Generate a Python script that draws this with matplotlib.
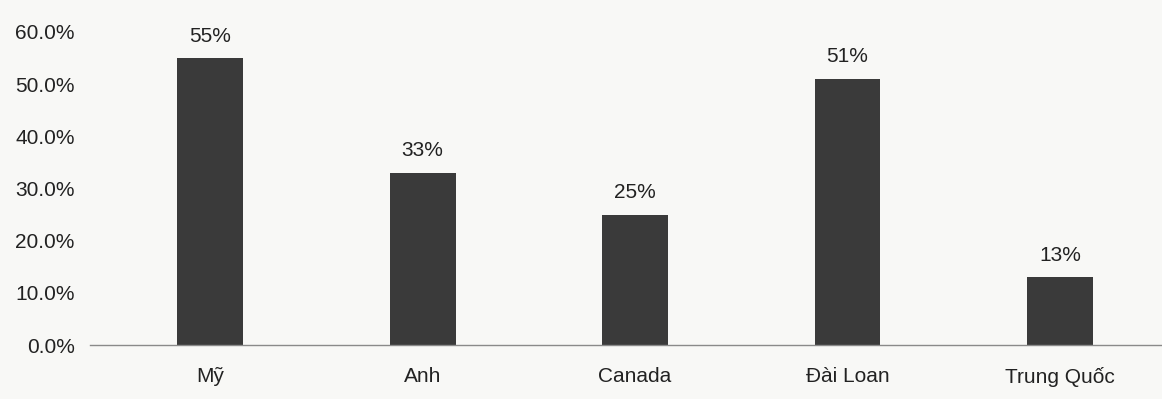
import numpy as np
import matplotlib.pyplot as plt
from matplotlib.ticker import PercentFormatter

plt.rcParams['font.family'] = ['Liberation Sans', 'DejaVu Sans']

countries = ['Mỹ', 'Anh', 'Canada', 'Đài Loan', 'Trung Quốc']
shares = [55, 33, 25, 51, 13]
value_labels = ['55%', '33%', '25%', '51%', '13%']
y_ticks = [0, 10, 20, 30, 40, 50, 60]

bg = '#f8f8f6'
bar_color = '#3a3a3a'
text_color = '#222222'

fig = plt.figure(figsize=(11.62, 3.99), dpi=100, facecolor=bg)
ax = fig.add_axes([0.0775, 0.135, 0.9225, 0.785], facecolor=bg)

x = np.arange(len(countries))
bars = ax.bar(x, shares, width=0.31, color=bar_color, zorder=2)

for rect, lab in zip(bars, value_labels):
    ax.annotate(lab, (rect.get_x() + rect.get_width() / 2, rect.get_height()),
                xytext=(0, 9), textcoords='offset points',
                ha='center', va='bottom', fontsize=15, color=text_color)

ax.set_xlim(-0.565, 4.48)
ax.set_ylim(0, 60)
ax.set_yticks(y_ticks)
ax.yaxis.set_major_formatter(PercentFormatter(decimals=1))
ax.set_xticks(x)
ax.set_xticklabels(countries)

ax.tick_params(axis='both', length=0, labelsize=15, labelcolor=text_color)
ax.tick_params(axis='y', pad=11)
ax.tick_params(axis='x', pad=16)

for side in ['top', 'right', 'left']:
    ax.spines[side].set_visible(False)
ax.spines['bottom'].set_color('#8a8a8a')
ax.spines['bottom'].set_linewidth(1.0)

fig.savefig('out.png', dpi=100, facecolor=bg)
